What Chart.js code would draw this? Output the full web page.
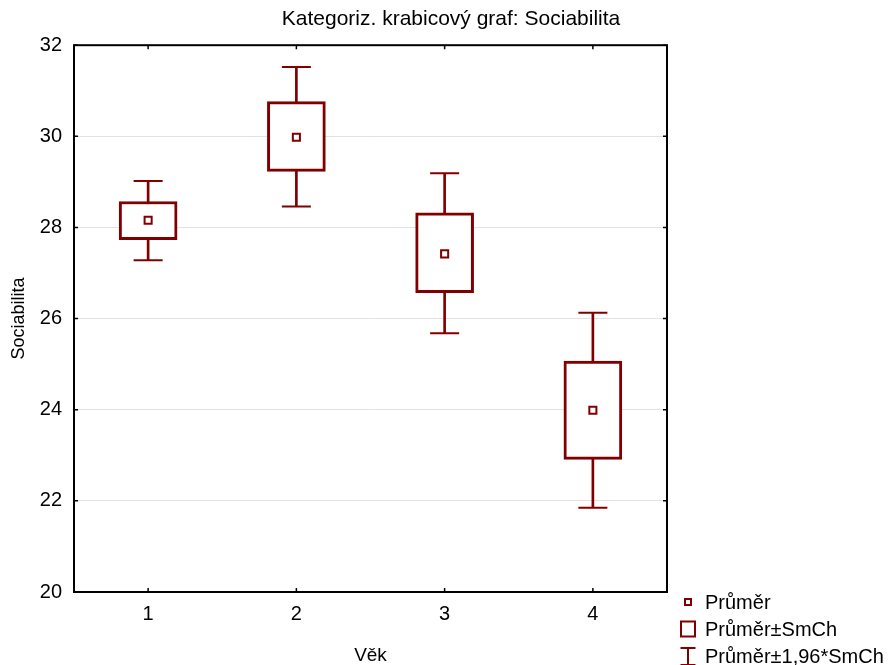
<!DOCTYPE html>
<html>
<head>
<meta charset="utf-8">
<title>Sociabilita</title>
<script src="https://cdn.jsdelivr.net/npm/chart.js@4/dist/chart.umd.min.js"></script>
<style>
  html, body { margin: 0; padding: 0; background: #fff; }
  #wrap { width: 892px; height: 665px; }
</style>
</head>
<body>
<div id="wrap"><canvas id="graf"></canvas></div>
<script>
// vek skupiny a hodnoty sociability
var kategorie = ['1', '2', '3', '4'];
var prumer = [28.16, 29.98, 27.42, 23.99];
var smchDolni = [27.73, 29.23, 26.57, 22.91];
var smchHorni = [28.57, 30.76, 28.32, 25.07];
var ciDolni = [27.28, 28.46, 25.68, 21.85];
var ciHorni = [29.02, 31.52, 29.19, 26.13];
var osaY = { min: 20, max: 32, krok: 2 };
var popiskyLegendy = ['Průměr', 'Průměr±SmCh', 'Průměr±1,96*SmCh'];

var cervena = '#800000';
Chart.defaults.font.family = '"Liberation Sans", Arial, sans-serif';
Chart.defaults.color = '#000';

// ramecek kolem grafu + drobne ticky dovnitr
var ramecek = {
  id: 'ramecek',
  afterDraw: function(chart){
    var ctx = chart.ctx;
    var a = chart.chartArea;
    var x = chart.scales.x, y = chart.scales.y;
    ctx.save();
    ctx.strokeStyle = '#000';
    ctx.lineWidth = 2;
    ctx.strokeRect(a.left, a.top, a.right - a.left, a.bottom - a.top);
    ctx.lineWidth = 1.5;
    ctx.beginPath();
    for (var i = 0; i < x.ticks.length; i++){
      var px = x.getPixelForTick(i);
      ctx.moveTo(px, a.bottom); ctx.lineTo(px, a.bottom - 4);
      ctx.moveTo(px, a.top); ctx.lineTo(px, a.top + 4);
    }
    for (var j = 0; j < y.ticks.length; j++){
      var py = y.getPixelForTick(j);
      ctx.moveTo(a.left, py); ctx.lineTo(a.left + 4, py);
      ctx.moveTo(a.right, py); ctx.lineTo(a.right - 4, py);
    }
    ctx.stroke();
    ctx.restore();
  }
};

// legenda vpravo dole
var legenda = {
  id: 'legenda',
  afterDraw: function(chart){
    var ctx = chart.ctx;
    var a = chart.chartArea;
    var ix = a.right + 21;
    var tx = a.right + 38;
    var y0 = a.bottom + 10;
    var krok = 27;
    ctx.save();
    ctx.strokeStyle = cervena;
    ctx.fillStyle = '#fff';
    // prumer
    ctx.lineWidth = 2;
    ctx.fillRect(ix - 3, y0 - 3, 6, 6);
    ctx.strokeRect(ix - 3, y0 - 3, 6, 6);
    // box
    ctx.strokeRect(ix - 7, y0 + krok - 7.5, 14, 15);
    // vousy
    var yw = y0 + 2 * krok;
    ctx.beginPath();
    ctx.moveTo(ix, yw - 8); ctx.lineTo(ix, yw + 9);
    ctx.moveTo(ix - 7.5, yw - 8); ctx.lineTo(ix + 7.5, yw - 8);
    ctx.moveTo(ix - 7.5, yw + 9); ctx.lineTo(ix + 7.5, yw + 9);
    ctx.stroke();
    ctx.fillStyle = '#000';
    ctx.font = '20px "Liberation Sans", Arial, sans-serif';
    ctx.textBaseline = 'middle';
    ctx.textAlign = 'left';
    for (var k = 0; k < popiskyLegendy.length; k++){
      ctx.fillText(popiskyLegendy[k], tx, y0 + 1 + k * krok);
    }
    ctx.restore();
  }
};

var graf = new Chart(document.getElementById('graf'), {
  type: 'bar',
  data: {
    labels: kategorie,
    datasets: [
      {
        label: 'Průměr±1,96*SmCh',
        data: ciDolni.map(function(v, i){ return [v, ciHorni[i]]; }),
        backgroundColor: cervena,
        barThickness: 2,
        grouped: false,
        order: 3
      },
      {
        label: 'Průměr±SmCh',
        data: smchDolni.map(function(v, i){ return [v, smchHorni[i]]; }),
        backgroundColor: '#fff',
        borderColor: cervena,
        borderWidth: 3,
        borderSkipped: false,
        barThickness: 58,
        grouped: false,
        order: 2
      },
      {
        type: 'line',
        label: 'horni',
        data: ciHorni,
        showLine: false,
        pointStyle: 'line',
        pointRadius: 14.5,
        pointBorderWidth: 2,
        pointBorderColor: cervena,
        order: 1
      },
      {
        type: 'line',
        label: 'dolni',
        data: ciDolni,
        showLine: false,
        pointStyle: 'line',
        pointRadius: 14.5,
        pointBorderWidth: 2,
        pointBorderColor: cervena,
        order: 1
      },
      {
        type: 'line',
        label: 'Průměr',
        data: prumer,
        showLine: false,
        pointStyle: 'rect',
        pointRadius: 5,
        pointBorderWidth: 2,
        pointBorderColor: cervena,
        pointBackgroundColor: '#fff',
        order: 0
      }
    ]
  },
  options: {
    responsive: true,
    maintainAspectRatio: false,
    animation: false,
    events: [],
    layout: { padding: { left: 10, right: 0, top: 0, bottom: 0 } },
    plugins: {
      legend: { display: false },
      tooltip: { enabled: false },
      title: {
        display: true,
        text: 'Kategoriz. krabicový graf: Sociabilita',
        font: { size: 21, weight: 'normal' },
        color: '#000',
        padding: { top: 7, bottom: 13 }
      }
    },
    scales: {
      x: {
        grid: { display: false, drawTicks: false },
        border: { display: false },
        ticks: { font: { size: 20 }, padding: 10 },
        title: {
          display: true,
          text: 'Věk',
          font: { size: 19, lineHeight: 1 },
          padding: 0
        },
        afterFit: function(s){ s.height = 73; }
      },
      y: {
        min: osaY.min,
        max: osaY.max,
        grid: { color: '#e2e2e2', lineWidth: 1, drawTicks: false },
        border: { display: false },
        ticks: { stepSize: osaY.krok, font: { size: 20 }, padding: 12 },
        title: {
          display: true,
          text: 'Sociabilita',
          font: { size: 18, lineHeight: 1 },
          padding: 0
        },
        afterFit: function(s){ s.width = 64; }
      },
      // prazdna osa vpravo, drzi misto pro legendu
      misto: {
        position: 'right',
        grid: { display: false, drawTicks: false },
        border: { display: false },
        ticks: { display: false },
        afterFit: function(s){ s.width = 225; }
      }
    }
  },
  plugins: [ramecek, legenda]
});
</script>
</body>
</html>
